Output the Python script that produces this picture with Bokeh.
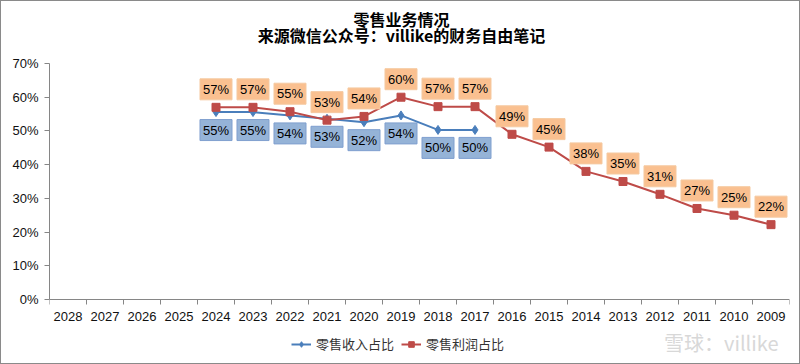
from bokeh.plotting import figure
from bokeh.models import (Range1d, LinearAxis, FixedTicker,
                          ColumnDataSource, Legend, LegendItem, Label)
from bokeh.core.properties import value
from bokeh.embed import file_html
from bokeh.resources import INLINE

# ---- data ----
years = ["2028", "2027", "2026", "2025", "2024", "2023", "2022", "2021", "2020", "2019",
         "2018", "2017", "2016", "2015", "2014", "2013", "2012", "2011", "2010", "2009"]

revenue_years = ["2024", "2023", "2022", "2021", "2020", "2019", "2018", "2017"]
revenue_share = [55.6, 55.6, 54.6, 53.6, 52.6, 54.6, 50.3, 50.3]

profit_years = ["2024", "2023", "2022", "2021", "2020", "2019", "2018", "2017",
                "2016", "2015", "2014", "2013", "2012", "2011", "2010", "2009"]
profit_share = [57.0, 57.0, 55.7, 53.2, 54.3, 60.0, 57.2, 57.2,
                49.0, 45.2, 38.0, 35.0, 31.2, 27.0, 25.0, 22.2]

y_ticks = [0, 10, 20, 30, 40, 50, 60, 70]
y_tick_labels = ["0%", "10%", "20%", "30%", "40%", "50%", "60%", "70%"]

title_line1 = "零售业务情况"
title_line2 = "来源微信公众号：villike的财务自由笔记"
series_names = ["零售收入占比", "零售利润占比"]
watermark = "雪球：villike"

# ---- styles / layout ----
BLUE = "#4a7ebb"
RED = "#be4b48"
AXIS = "#868686"
LATIN = "Liberation Sans"
CJK = "Noto Sans CJK SC"

W, H = 800, 364
FRAME_L, FRAME_R, FRAME_T, FRAME_B = 48, 788, 8, 364   # frame box on the canvas
Y0_PX, Y70_PX = 298, 62                                 # where 0% and 70% sit
PX_PER_UNIT = (Y0_PX - Y70_PX) / 70.0
y_lo = -(FRAME_B - Y0_PX) / PX_PER_UNIT
y_hi = 70 + (Y70_PX - FRAME_T) / PX_PER_UNIT

# category slot i spans [i, i+1] on the x scale
pos = {y: i + 0.5 for i, y in enumerate(years)}

p = figure(width=W, height=H, x_range=Range1d(0, len(years)), y_range=Range1d(y_lo, y_hi),
           output_backend="svg", toolbar_location=None, x_axis_location=None,
           min_border_left=FRAME_L, min_border_right=W - FRAME_R,
           min_border_top=FRAME_T, min_border_bottom=0)
p.outline_line_color = None
p.grid.grid_line_color = None
p.background_fill_color = "white"
p.border_fill_color = "white"

# y axis
ya = p.yaxis[0]
ya.ticker = FixedTicker(ticks=y_ticks)
ya.bounds = (0, 70)
ya.major_label_overrides = {t: l for t, l in zip(y_ticks, y_tick_labels)}
ya.axis_line_color = AXIS
ya.major_tick_line_color = AXIS
ya.major_tick_out = 5
ya.major_tick_in = 0
ya.minor_tick_line_color = None
ya.major_label_standoff = 6
ya.major_label_text_font = LATIN
ya.major_label_text_font_size = "13px"
ya.major_label_text_color = "#111111"

# x axis line at 0% with ticks on the category boundaries
xa = LinearAxis(fixed_location=0, ticker=FixedTicker(ticks=list(range(len(years) + 1))))
xa.major_label_overrides = {i: "" for i in range(len(years) + 1)}
xa.major_label_text_font_size = "1px"
xa.major_label_standoff = 0
xa.axis_line_color = AXIS
xa.major_tick_line_color = AXIS
xa.major_tick_out = 0
xa.major_tick_in = 5
xa.minor_tick_line_color = None
p.add_layout(xa, "above")

# category names under the axis
p.text(x=[pos[y] for y in years], y=[0] * len(years), text=years, y_offset=17,
       text_align="center", text_baseline="middle", text_font=value(LATIN),
       text_font_size="13px", text_color="#111111")

# series
rev_src = ColumnDataSource(dict(x=[pos[y] for y in revenue_years], y=revenue_share))
pro_src = ColumnDataSource(dict(x=[pos[y] for y in profit_years], y=profit_share))

rl = p.line("x", "y", source=rev_src, line_color=BLUE, line_width=2)
rs = p.scatter("x", "y", source=rev_src, marker="diamond", size=9,
               fill_color=BLUE, line_color=BLUE)
pl = p.line("x", "y", source=pro_src, line_color=RED, line_width=2)
ps = p.scatter("x", "y", source=pro_src, marker="square", size=8,
               fill_color=RED, line_color=RED)

# data labels with boxes
def add_labels(xs, ys, dy, fill, border):
    for x, y in zip(xs, ys):
        p.add_layout(Label(x=pos[x], y=y, y_offset=dy, text=f"{int(y)}%",
                           text_align="center", text_baseline="middle",
                           text_font=LATIN, text_font_size="13px", text_color="black",
                           background_fill_color=fill, border_line_color=border,
                           padding=3))

add_labels(revenue_years, revenue_share, -18, "#95b3d7", "#7f9fcf")
add_labels(profit_years, profit_share, 18, "#fac090", "#f5c9a0")

# legend at the bottom
legend = Legend(items=[LegendItem(label=series_names[0], renderers=[rl, rs]),
                       LegendItem(label=series_names[1], renderers=[pl, ps])],
                orientation="horizontal", location=(290 - FRAME_L, FRAME_B - 352),
                label_text_font=CJK, label_text_font_size="13px", label_text_color="#333333",
                glyph_width=20, glyph_height=14, label_standoff=5, spacing=7,
                padding=0, margin=0, border_line_color=None, background_fill_alpha=0)
p.add_layout(legend)

# titles (centered on the canvas)
for txt, y_page in [(title_line1, 17), (title_line2, 33)]:
    p.add_layout(Label(x=400 - FRAME_L, y=FRAME_B - y_page,
                       x_units="screen", y_units="screen", text=txt,
                       text_align="center", text_baseline="middle",
                       text_font=CJK, text_font_size="16px",
                       text_font_style="bold", text_color="black"))

# watermark
p.add_layout(Label(x=777 - FRAME_L, y=FRAME_B - 341,
                   x_units="screen", y_units="screen", text=watermark,
                   text_align="right", text_baseline="middle",
                   text_font=CJK, text_font_size="20px", text_color="#d8d8d8"))

p.styles = {"border": "1px solid #8a8a8a", "box-sizing": "border-box"}

open("out.html", "w").write(file_html(p, INLINE))
